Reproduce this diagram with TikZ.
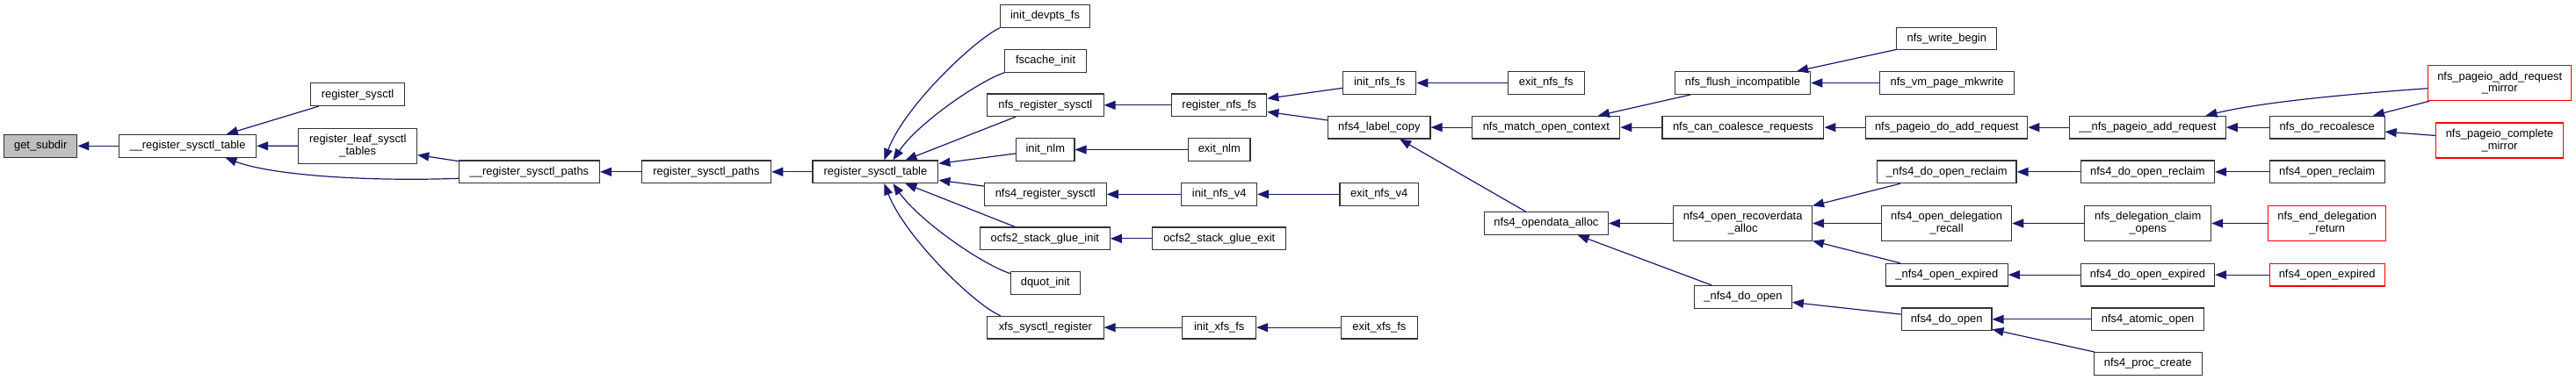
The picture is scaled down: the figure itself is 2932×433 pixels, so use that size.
\documentclass[tikz,border=0pt]{standalone}
\usepackage{fontspec}
\setmainfont{Liberation Sans}
\usetikzlibrary{arrows.meta,calc}
\definecolor{edgecol}{HTML}{191970}
\definecolor{grayfill}{HTML}{BFBFBF}
\definecolor{boxline}{HTML}{333333}
\tikzset{
  box/.style={draw=boxline, line width=1.1pt, fill=white, inner sep=0pt, minimum height=25.7pt, font=\fontsize{12.9}{13.8}\selectfont, align=center},
  dbox/.style={box, minimum height=40.5pt},
  redbox/.style={draw=red},
  e/.style={draw=edgecol, line width=1.2pt, -{Triangle[length=13pt,width=10pt]}}
}
\begin{document}
\begin{tikzpicture}[x=1pt,y=-1pt]
\path[use as bounding box, fill=white] (0,0) rectangle (2932,433);
% nodes
\node[box, fill=grayfill, minimum width=83.2pt] (gs) at (46.2,166.3) {get\_subdir};
\node[box, minimum width=156.1pt] (rstu) at (213.55,166.3) {\_\_register\_sysctl\_table};
\node[box, minimum width=106.8pt] (rs) at (407,107.7) {register\_sysctl};
\node[dbox, minimum width=134.9pt] (rlst) at (407.25,166.35) {register\_leaf\_sysctl\\\_tables};
\node[box, minimum width=160.1pt] (rspu) at (602.45,195.8) {\_\_register\_sysctl\_paths};
\node[box, minimum width=147.5pt] (rsp) at (803.95,195.8) {register\_sysctl\_paths};
\node[box, minimum width=142.9pt] (rst) at (996.45,195.8) {register\_sysctl\_table};
\node[box, minimum width=102.5pt] (idf) at (1189.55,18.5) {init\_devpts\_fs};
\node[box, minimum width=92.3pt] (fsc) at (1190.05,69.35) {fscache\_init};
\node[box, minimum width=132.6pt] (nrs) at (1189.8,119.85) {nfs\_register\_sysctl};
\node[box, minimum width=66.4pt] (inlm) at (1189.8,170.5) {init\_nlm};
\node[box, minimum width=138.8pt] (nfrs) at (1189.8,221.35) {nfs4\_register\_sysctl};
\node[box, minimum width=148pt] (ogi) at (1189.3,271.85) {ocfs2\_stack\_glue\_init};
\node[box, minimum width=78.6pt] (dq) at (1189.8,322.5) {dquot\_init};
\node[box, minimum width=132.6pt] (xsr) at (1189.8,373.15) {xfs\_sysctl\_register};
\node[box, minimum width=108.1pt] (rnf) at (1387.75,119.85) {register\_nfs\_fs};
\node[box, minimum width=70.4pt] (enlm) at (1387.8,170.5) {exit\_nlm};
\node[box, minimum width=85.7pt] (inv) at (1387.75,221.35) {init\_nfs\_v4};
\node[box, minimum width=152.1pt] (oge) at (1387.75,271.85) {ocfs2\_stack\_glue\_exit};
\node[box, minimum width=83.7pt] (ixf) at (1387.75,373.15) {init\_xfs\_fs};
\node[box, minimum width=83.1pt] (inf) at (1570.15,94.5) {init\_nfs\_fs};
\node[box, minimum width=116.3pt] (nflc) at (1569.85,145.15) {nfs4\_label\_copy};
\node[box, minimum width=89.3pt] (env) at (1569.65,221.35) {exit\_nfs\_v4};
\node[box, minimum width=86.8pt] (exf) at (1569.9,373.15) {exit\_xfs\_fs};
\node[box, minimum width=86.6pt] (enf) at (1759.8,94.5) {exit\_nfs\_fs};
\node[box, minimum width=167.9pt] (nmoc) at (1759.85,145.15) {nfs\_match\_open\_context};
\node[box, minimum width=141.1pt] (nfoa) at (1759.85,254.5) {nfs4\_opendata\_alloc};
\node[box, minimum width=154.4pt] (nfi) at (1983.5,94.5) {nfs\_flush\_incompatible};
\node[box, minimum width=183.9pt] (ncc) at (1983.95,145.15) {nfs\_can\_coalesce\_requests};
\node[dbox, minimum width=157.6pt] (nfora) at (1983.7,254.5) {nfs4\_open\_recoverdata\\\_alloc};
\node[box, minimum width=110.7pt] (ndou) at (1983.95,338.35) {\_nfs4\_do\_open};
\node[box, minimum width=113.9pt] (nwb) at (2215.85,44) {nfs\_write\_begin};
\node[box, minimum width=153.6pt] (nvm) at (2216.1,94.5) {nfs\_vm\_page\_mkwrite};
\node[box, minimum width=184.1pt] (npda) at (2215.75,145.15) {nfs\_pageio\_do\_add\_request};
\node[box, minimum width=158.4pt] (ndoru) at (2215.8,195.85) {\_nfs4\_do\_open\_reclaim};
\node[dbox, minimum width=148.2pt] (nodr) at (2215.6,254.5) {nfs4\_open\_delegation\\\_recall};
\node[box, minimum width=138.9pt] (noeu) at (2215.85,313.15) {\_nfs4\_open\_expired};
\node[box, minimum width=102.7pt] (ndo) at (2215.65,363.85) {nfs4\_do\_open};
\node[box, minimum width=177.5pt] (nparu) at (2444.45,145.15) {\_\_nfs\_pageio\_add\_request};
\node[box, minimum width=130.9pt] (ndr) at (2648.65,145.15) {nfs\_do\_recoalesce};
\node[dbox, redbox, minimum width=163.1pt, minimum height=40pt] (nparm) at (2845.25,94.7) {nfs\_pageio\_add\_request\\\_mirror};
\node[dbox, redbox, minimum width=145.3pt, minimum height=40pt] (npcm) at (2845.05,160) {nfs\_pageio\_complete\\\_mirror};
\node[box, minimum width=152.3pt] (ndor) at (2444.45,195.85) {nfs4\_do\_open\_reclaim};
\node[box, minimum width=130.9pt] (nor) at (2648.65,195.85) {nfs4\_open\_reclaim};
\node[dbox, minimum width=143.9pt] (ndco) at (2444.65,254.5) {nfs\_delegation\_claim\\\_opens};
\node[dbox, redbox, minimum width=134.4pt] (nedr) at (2648.7,254.5) {nfs\_end\_delegation\\\_return};
\node[box, minimum width=152.3pt] (ndoe) at (2444.45,313.15) {nfs4\_do\_open\_expired};
\node[box, redbox, minimum width=130.9pt] (noe) at (2648.65,313.15) {nfs4\_open\_expired};
\node[box, minimum width=128.3pt] (nao) at (2444.65,363.85) {nfs4\_atomic\_open};
\node[box, minimum width=123.1pt] (npc) at (2444.65,414.5) {nfs4\_proc\_create};
% edges
\draw[e] (rstu) -- (gs);
\draw[e] (rs) -- (rstu);
\draw[e] (rlst) -- (rstu);
\draw[e] ($(rspu.west)+(0,7.5)$) .. controls (420,207) and (310,200) .. ($(rstu.south west)+(121.5,0)$);
\draw[e] (rspu) -- (rlst);
\draw[e] (rsp) -- (rspu);
\draw[e] (rst) -- (rsp);
\draw[e] (idf.south west) .. controls (1110,45) and (1030,120) .. ($(rst.north west)+(82,0)$);
\draw[e] (fsc.south west) .. controls (1115,92) and (1045,140) .. ($(rst.north west)+(92,0)$);
\draw[e] (nrs) -- (rst);
\draw[e] (inlm) -- (rst);
\draw[e] (nfrs) -- (rst);
\draw[e] (ogi) -- (rst);
\draw[e] ($(dq.north west)+(0,2.6)$) .. controls (1115,300) and (1045,250) .. ($(rst.south west)+(92,0)$);
\draw[e] ($(xsr.north west)+(15.8,0)$) .. controls (1110,348) and (1030,270) .. ($(rst.south west)+(82,0)$);
\draw[e] (rnf) -- (nrs);
\draw[e] (enlm) -- (inlm);
\draw[e] (inv) -- (nfrs);
\draw[e] (oge) -- (ogi);
\draw[e] (ixf) -- (xsr);
\draw[e] (inf) -- (rnf);
\draw[e] (nflc) -- (rnf);
\draw[e] (env) -- (inv);
\draw[e] (exf) -- (ixf);
\draw[e] (enf) -- (inf);
\draw[e] (nmoc) -- (nflc);
\draw[e] (nfoa) -- (nflc);
\draw[e] (nfi) -- (nmoc);
\draw[e] (ncc) -- (nmoc);
\draw[e] (nfora) -- (nfoa);
\draw[e] (ndou) -- (nfoa);
\draw[e] (nwb) -- (nfi);
\draw[e] (nvm) -- (nfi);
\draw[e] (npda) -- (ncc);
\draw[e] (ndoru) -- (nfora);
\draw[e] (nodr) -- (nfora);
\draw[e] (noeu) -- (nfora);
\draw[e] (ndo) -- (ndou);
\draw[e] (nparu) -- (npda);
\draw[e] (ndr) -- (nparu);
\draw[e] ($(nparm.west)+(0,6)$) .. controls (2690,106) and (2580,115) .. ($(nparu.north west)+(155.3,0)$);
\draw[e] (nparm) -- (ndr);
\draw[e] (npcm) -- (ndr);
\draw[e] (ndor) -- (ndoru);
\draw[e] (nor) -- (ndor);
\draw[e] (ndco) -- (nodr);
\draw[e] (nedr) -- (ndco);
\draw[e] (ndoe) -- (noeu);
\draw[e] (noe) -- (ndoe);
\draw[e] (nao) -- (ndo);
\draw[e] (npc) -- (ndo);
\end{tikzpicture}
\end{document}
